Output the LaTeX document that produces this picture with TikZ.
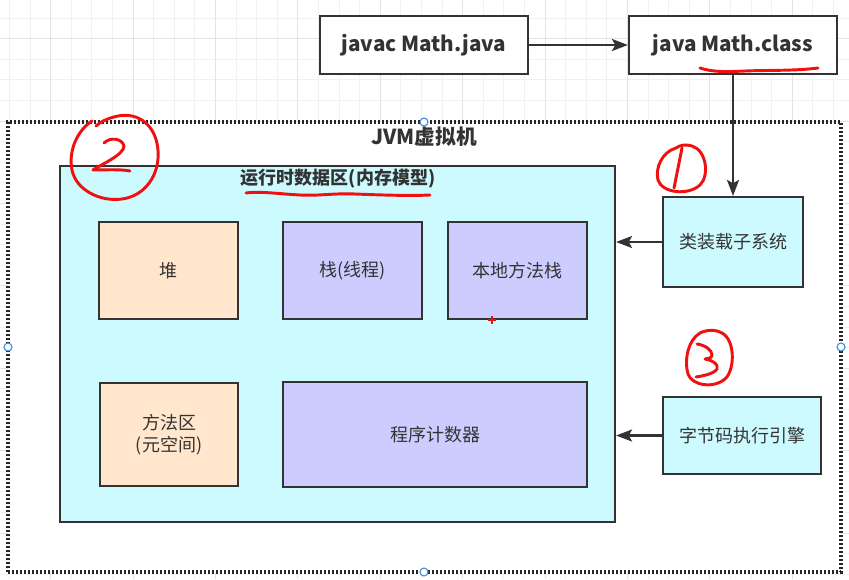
\documentclass[tikz,border=0pt]{standalone}
\usepackage{fontspec}
\setmainfont{Noto Sans CJK SC}
\usetikzlibrary{arrows.meta}
\definecolor{ink}{HTML}{333333}
\definecolor{cyanfill}{HTML}{CCFAFF}
\definecolor{peach}{HTML}{FFE6CC}
\definecolor{lav}{HTML}{CCCCFF}
\definecolor{gridminor}{HTML}{F1F1F1}
\definecolor{gridmajor}{HTML}{E3E3E3}
\definecolor{pen}{HTML}{F01010}
\definecolor{handle}{HTML}{3B8DE0}
\begin{document}
\begin{tikzpicture}[x=0.75pt,y=-0.75pt,
  box/.style={draw=ink,line width=1.6pt,inner sep=0pt,text=ink,
    font=\fontsize{13.5pt}{17pt}\selectfont,align=center},
  topbox/.style={box,fill=white,minimum width=156pt,minimum height=43.5pt,
    font=\fontsize{15.5pt}{18pt}\selectfont\bfseries},
  conn/.style={draw=ink,line width=1.7pt,-{Stealth[length=12pt,width=9pt,inset=2.5pt]}},
  redpen/.style={draw=pen,line width=2.2pt,line cap=round,line join=round},
  handlecirc/.style={draw=handle,fill=white,line width=0.8pt,circle,inner sep=0pt,minimum size=6pt}]
\useasboundingbox (0,0) rectangle (849,579);
\fill[white] (0,0) rectangle (849,579);
% grid
\foreach \i in {0,...,41}{
  \draw[gridminor,line width=0.6pt] (9.3+20.6*\i,0) -- (9.3+20.6*\i,579);}
\foreach \j in {0,...,28}{
  \draw[gridminor,line width=0.6pt] (0,18+20.6*\j) -- (849,18+20.6*\j);}
\foreach \i in {0,...,10}{
  \draw[gridmajor,line width=0.6pt] (50.5+82.4*\i,0) -- (50.5+82.4*\i,579);}
\foreach \j in {0,...,7}{
  \draw[gridmajor,line width=0.6pt] (0,38.6+82.4*\j) -- (849,38.6+82.4*\j);}
% JVM dotted container
\node (jvm) [draw=black!85,fill=white,line width=2.3pt,dash pattern=on 1.6pt off 1.4pt,
  inner sep=0pt,minimum width=624.75pt,minimum height=337.5pt] at (424.5,347) {};
\node (jvmlabel) [text=ink,font=\fontsize{15.5pt}{18pt}\selectfont\bfseries] at (424,137) {JVM虚拟机};
% top boxes
\node (javac) [topbox] at (424,45) {javac Math.java};
\node (java) [topbox] at (733,45) {java Math.class};
% runtime data area
\node (rt) [box,fill=cyanfill,minimum width=416.25pt,minimum height=267pt] at (337.5,344) {};
\node (rtlabel) [text=ink,font=\fontsize{13.5pt}{17pt}\selectfont\bfseries] at (338,179) {运行时数据区(内存模型)};
\node (heap) [box,fill=peach,minimum width=104.25pt,minimum height=72.75pt] at (168.5,270.5) {堆};
\node (stack) [box,fill=lav,minimum width=104.25pt,minimum height=72.75pt] at (352.5,270.5) {栈(线程)};
\node (native) [box,fill=lav,minimum width=104.25pt,minimum height=72.75pt] at (517.5,270.5) {本地方法栈};
\node (method) [box,fill=peach,minimum width=103.5pt,minimum height=77.25pt] at (169,434.5) {方法区\\(元空间)};
\node (pc) [box,fill=lav,minimum width=228pt,minimum height=78.75pt] at (435,434.5) {程序计数器};
% right side
\node (loader) [box,fill=cyanfill,minimum width=105pt,minimum height=67.5pt] at (733,242) {类装载子系统};
\node (engine) [box,fill=cyanfill,minimum width=118.5pt,minimum height=57.75pt] at (742,435.5) {字节码执行引擎};
% connectors
\draw[conn] (javac.east) -- (java.west);
\draw[conn] (java.south) -- (loader.north);
\draw[conn] (loader.west) -- (loader.west -| rt.east);
\draw[conn] (engine.west) -- (engine.west -| rt.east);
% selection handles and cursor mark
\node (h1) [handlecirc] at (424,122) {};
\node (h2) [handlecirc] at (8,347) {};
\node (h3) [handlecirc] at (841,347) {};
\node (h4) [handlecirc] at (424,572) {};
\draw[pen,line width=0.8pt] (488,320) -- (496,320) (492,316) -- (492,324);
% red annotations
\draw[redpen] (700,68) .. controls (712,72) and (725,72) .. (745,71)
  .. controls (770,70) and (795,71) .. (818,68);
\draw[redpen] (246,193) .. controls (260,191) and (280,194) .. (300,195)
  .. controls (320,196) and (335,193) .. (355,194)
  .. controls (380,195) and (410,196) .. (430,195);
% circle 2
\draw[redpen] (92,121) .. controls (78,130) and (68,150) .. (72,170)
  .. controls (76,190) and (100,202) .. (122,199)
  .. controls (145,196) and (160,175) .. (158,150)
  .. controls (156,125) and (138,112) .. (118,116)
  .. controls (108,118) and (100,122) .. (96,126);
\draw[redpen] (104,143) .. controls (110,137) and (122,138) .. (124,146)
  .. controls (124,155) and (100,165) .. (93,170)
  .. controls (105,170) and (120,169) .. (130,171);
% circle 1
\draw[redpen] (676,148) .. controls (662,152) and (655,168) .. (658,180)
  .. controls (662,193) and (688,196) .. (700,185)
  .. controls (710,175) and (706,150) .. (692,146)
  .. controls (686,144) and (680,145) .. (676,148);
\draw[redpen] (682,148) -- (674,188);
% circle 3
\draw[redpen] (700,333) .. controls (688,340) and (684,360) .. (688,374)
  .. controls (692,386) and (715,389) .. (726,378)
  .. controls (735,368) and (735,340) .. (722,333)
  .. controls (715,329) and (706,330) .. (700,333);
\draw[redpen] (697,344) .. controls (705,345) and (712,350) .. (712,355)
  .. controls (712,358) and (708,359) .. (705,359)
  .. controls (712,360) and (719,364) .. (717,369)
  .. controls (714,374) and (702,376) .. (696,377);
\end{tikzpicture}
\end{document}
